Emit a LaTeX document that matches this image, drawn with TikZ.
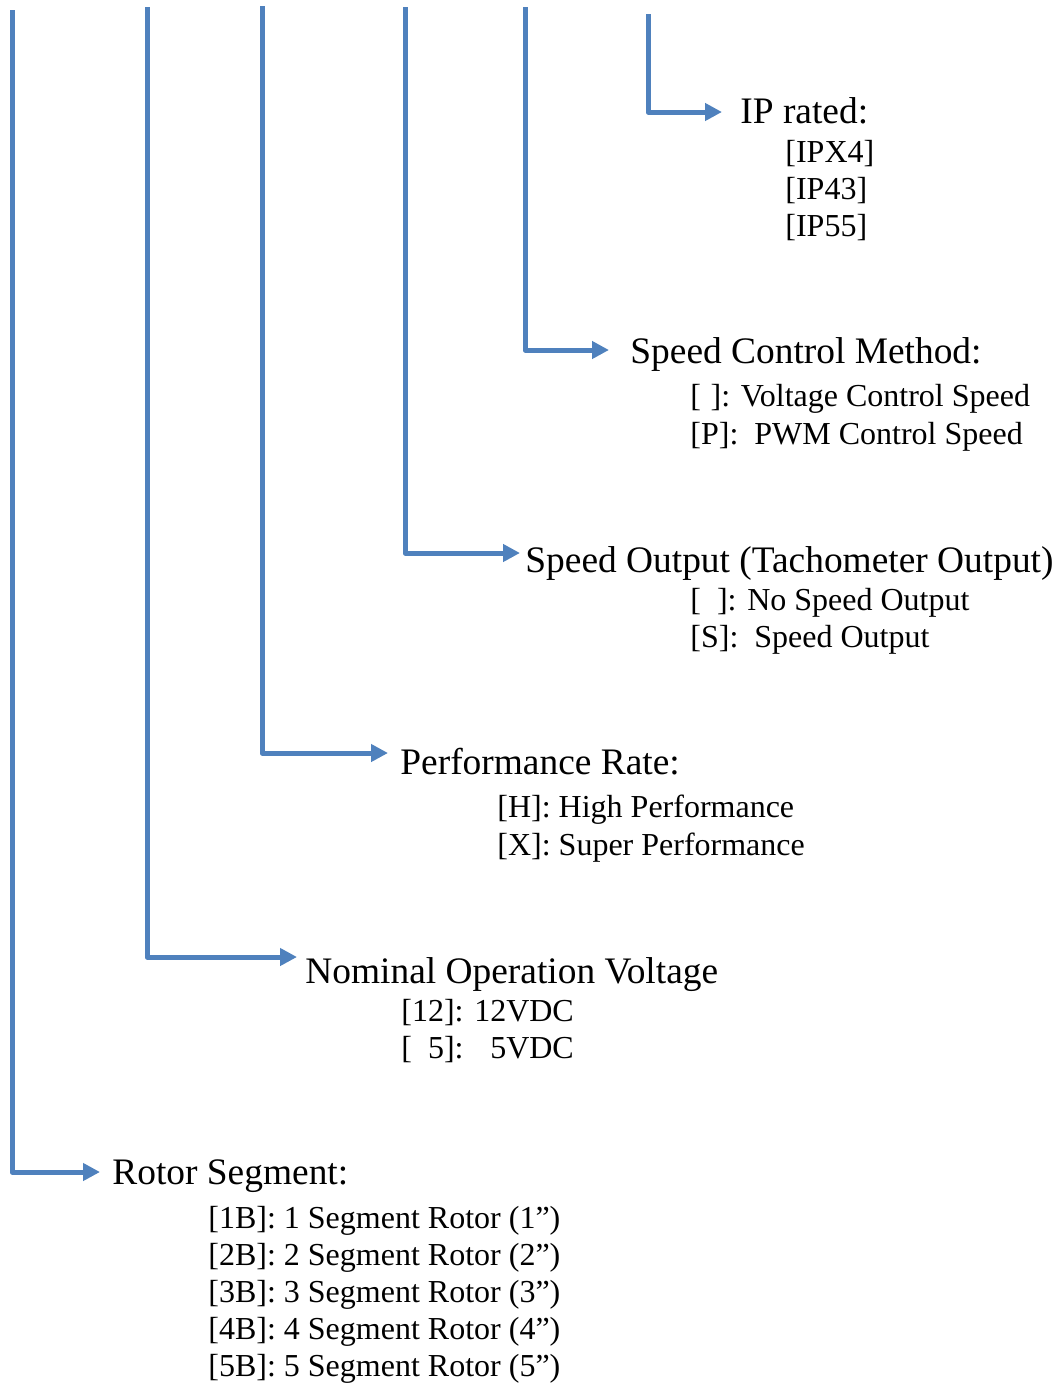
\documentclass[tikz,border=0pt]{standalone}
\usepackage{fontspec}
\setmainfont{Liberation Serif}
\usepackage{xcolor}
\usetikzlibrary{calc,
	positioning,
	arrows.meta}
\definecolor{lineblue}{RGB}{79,129,189}
\tikzstyle{branch}=[draw=lineblue, line width=2.5pt, line join=round,
		-{Triangle[length=8.5pt, width=8.5pt]}]
\tikzstyle{head}=[anchor=base west, inner sep=0, font=\fontsize{18.7}{22}\selectfont]
\tikzstyle{opt}=[anchor=base west, inner sep=0, font=\fontsize{16}{18.5}\selectfont]

\begin{document}
\begin{tikzpicture}[x=0.5pt, y=-0.5pt]
	\useasboundingbox (0,0) rectangle (1057,1383);
	% top ends of the code lines
	\coordinate (rsTop) at (12,10);
	\coordinate (novTop) at (147,7);
	\coordinate (prTop) at (262,6);
	\coordinate (soTop) at (405,7);
	\coordinate (scmTop) at (525,7);
	\coordinate (ipTop) at (648,14);
	% arrow tips
	\coordinate (rsTip) at (100,1172);
	\coordinate (novTip) at (297,957);
	\coordinate (prTip) at (388,753);
	\coordinate (soTip) at (520,553);
	\coordinate (scmTip) at (609,350);
	\coordinate (ipTip) at (722,112);

	% IP rating
	\node[head] (ip) at (740,123) {IP rated:};
	\node[opt] (ip1) at (785,162) {[IPX4]};
	\node[opt] (ip2) at (785,199) {[IP43]};
	\node[opt] (ip3) at (785,236) {[IP55]};

	% speed control
	\node[head] (scm) at (630,363) {Speed Control Method:};
	\node[opt] (scm1) at (690,406) {[\hspace{0.3em}]: Voltage Control Speed};
	\node[opt] (scm2) at (690,444) {[P]:\ \ PWM Control Speed};

	% speed output
	\node[head] (so) at (525,572) {Speed Output (Tachometer Output)};
	\node[opt] (so1) at (690,610) {[\hspace{0.5em}]: No Speed Output};
	\node[opt] (so2) at (690,647) {[S]:\ \ Speed Output};

	% performance
	\node[head] (pr) at (400,774) {Performance Rate:};
	\node[opt] (pr1) at (497,817) {[H]: High Performance};
	\node[opt] (pr2) at (497,855) {[X]: Super Performance};

	% voltage
	\node[head] (nov) at (305,983) {Nominal Operation Voltage};
	\node[opt] (nov1) at (401,1021) {[12]: 12VDC};
	\node[opt] (nov2) at (401,1058) {[\hphantom{1}5]: \hphantom{1}5VDC};

	% rotor
	\node[head] (rs) at (112,1184) {Rotor Segment:};
	\foreach \n in {1,...,5}
		\node[opt] (rs\n) at (208,{1228+37*(\n-1)}) {[\n B]: \n\ Segment Rotor (\n”)};

	\draw[branch] (rsTop) |- (rsTip);
	\draw[branch] (novTop) |- (novTip);
	\draw[branch] (prTop) |- (prTip);
	\draw[branch] (soTop) |- (soTip);
	\draw[branch] (scmTop) |- (scmTip);
	\draw[branch] (ipTop) |- (ipTip);
\end{tikzpicture}
\end{document}
